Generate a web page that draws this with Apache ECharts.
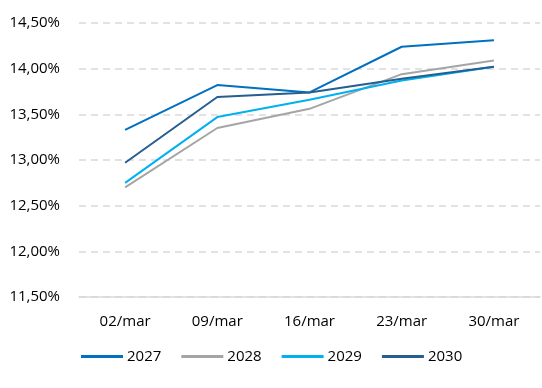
<!DOCTYPE html>
<html><head><meta charset="utf-8">
<script src="https://cdn.jsdelivr.net/npm/echarts@6/dist/echarts.min.js"></script>
<style>html,body{margin:0;padding:0;background:#fff}#c{width:542px;height:388px}</style>
</head><body><div id="c"></div>
<script>
var categories = ['02/mar','09/mar','16/mar','23/mar','30/mar'];
var s2027 = [13.33, 13.82, 13.74, 14.24, 14.31];
var s2028 = [12.70, 13.35, 13.56, 13.94, 14.09];
var s2029 = [12.75, 13.47, 13.66, 13.87, 14.02];
var s2030 = [12.97, 13.69, 13.74, 13.89, 14.02];
var seriesNames = ['2027','2028','2029','2030'];
var colors = ['#0070C0','#A5A5A5','#00B0F0','#255E91'];
var data = [s2027, s2028, s2029, s2030];
var font = '"Open Sans", "Liberation Sans", sans-serif';
var chart = echarts.init(document.getElementById('c'), null, {renderer:'canvas'});
chart.setOption({
  animation:false,
  color: colors,
  grid:{left:79, right:2, top:23, bottom:91},
  legend:{
    bottom:19, left:76, itemWidth:42, itemHeight:3, itemGap:20,
    icon:'rect',
    textStyle:{color:'#000', fontSize:15, fontFamily:font, padding:[0,0,0,-1]},
    data: seriesNames
  },
  xAxis:{
    type:'category', data:categories, boundaryGap:true,
    axisLine:{show:true, lineStyle:{color:'#D9D9D9', width:1.5}}, axisTick:{show:false},
    axisLabel:{color:'#000', fontSize:15, fontFamily:font, margin:17}
  },
  yAxis:{
    type:'value', min:11.5, max:14.5, interval:0.5,
    axisLine:{show:false}, axisTick:{show:false},
    axisLabel:{color:'#000', fontSize:15, fontFamily:font, margin:19,
      formatter:function(v){return v.toFixed(2).replace('.',',')+'%';}},
    splitLine:{show:true, lineStyle:{color:'#D9D9D9', width:1.5, type:[7,5]}}
  },
  series: seriesNames.map(function(n,i){
    return {name:n, type:'line', data:data[i], symbol:'none', smooth:false,
      lineStyle:{width:2, color:colors[i]}, itemStyle:{color:colors[i]}};
  })
});
</script></body></html>
